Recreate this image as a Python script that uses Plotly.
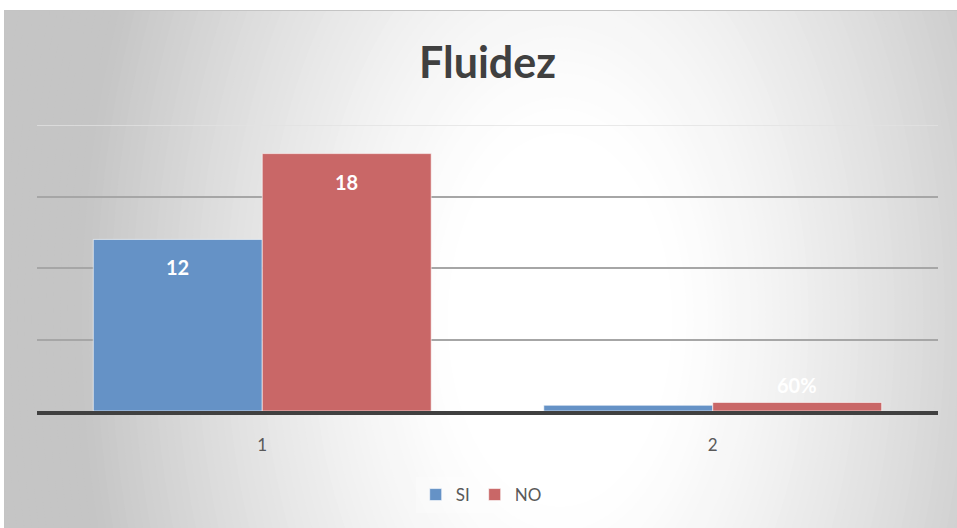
import plotly.graph_objects as go

categories = ["1", "2"]
si_values = [12, 0.4]
no_values = [18, 0.6]
si_labels = ["12", ""]
no_labels = ["18", "60%"]

W, H = 957, 528
L, R, T, B = 37, 19, 125, 117
pw, ph = W - L - R, H - T - B
BARGAP = 0.25

def px_x(p):
    return (p - L) / pw

def px_y(p):
    return (H - B - p) / ph

fig = go.Figure()
fig.add_trace(go.Bar(
    name="SI", x=categories, y=si_values,
    marker=dict(color="#6592c6", line=dict(color="rgba(255,255,255,0.6)", width=1)),
))
fig.add_trace(go.Bar(
    name="NO", x=categories, y=no_values,
    marker=dict(color="#c96767", line=dict(color="rgba(255,255,255,0.6)", width=1)),
))

# data labels (Excel-style "inside end" with its larger inset)
bar_px = pw / len(categories) * (1 - BARGAP) / 2
annotations = []
for vals, labs, sign in ((si_values, si_labels, -1), (no_values, no_labels, 1)):
    for idx, (v, lab) in enumerate(zip(vals, labs)):
        if not lab:
            continue
        inside = v > 2
        annotations.append(dict(
            x=idx, y=v, xref="x", yref="y", text="<b>%s</b>" % lab, showarrow=False,
            xshift=sign * bar_px / 2, yshift=-28 if inside else 17,
            font=dict(family="Lato", size=20, color="white"),
        ))

shapes = []
# elliptical background gradient
cx, cy, ax, ay = 560, 320, 420, 700
steps = 80
for i in range(steps):
    t = 1.6 - (1.6 - 0.25) * i / (steps - 1)
    f = min(1.0, max(0.0, (t - 0.25) / 0.9)) ** 1.3
    g = int(round(255 - 58 * f))
    shapes.append(dict(
        type="circle", xref="paper", yref="paper", layer="below",
        x0=px_x(cx - ax * t), x1=px_x(cx + ax * t),
        y0=px_y(cy + ay * t), y1=px_y(cy - ay * t),
        line=dict(width=0), fillcolor="rgb(%d,%d,%d)" % (g, g, g),
    ))
# white outer margin strips
shapes.append(dict(type="rect", xref="paper", yref="paper", layer="below",
                   x0=px_x(-5), x1=px_x(W + 5), y0=px_y(10), y1=px_y(-5),
                   line=dict(width=0), fillcolor="white"))
shapes.append(dict(type="rect", xref="paper", yref="paper", layer="below",
                   x0=px_x(-5), x1=px_x(4), y0=px_y(H + 5), y1=px_y(-5),
                   line=dict(width=0), fillcolor="white"))
shapes.append(dict(type="line", xref="paper", yref="paper", layer="below",
                   x0=px_x(4), x1=px_x(W + 5), y0=px_y(10.5), y1=px_y(10.5),
                   line=dict(width=1, color="#c4c4c4")))
shapes.append(dict(type="line", xref="paper", yref="paper", layer="below",
                   x0=px_x(4.5), x1=px_x(4.5), y0=px_y(H + 5), y1=px_y(10),
                   line=dict(width=1, color="#c4c4c4")))
# faint top gridline
shapes.append(dict(type="line", xref="paper", yref="y", layer="below",
                   x0=0, x1=1, y0=20, y1=20,
                   line=dict(width=1.5, color="#e2e2e2")))

fig.update_layout(
    width=W, height=H,
    margin=dict(l=L, r=R, t=T, b=B),
    paper_bgcolor="rgb(197,197,197)",
    plot_bgcolor="rgba(0,0,0,0)",
    barmode="group", bargap=BARGAP, bargroupgap=0,
    shapes=shapes, annotations=annotations,
    title=dict(text="<b>Fluidez</b>", x=0.5, xref="paper", y=1 - 63 / H, yref="container",
               yanchor="middle", font=dict(family="Lato", size=43, color="#404040")),
    font=dict(family="Lato", color="#595959"),
    showlegend=True,
    legend=dict(orientation="h", x=0.493, xanchor="center", y=px_y(495), yanchor="middle",
                font=dict(size=17, color="#595959"), bgcolor="rgba(255,255,255,0.25)",
                itemwidth=30, traceorder="normal"),
)
fig.update_xaxes(type="category", range=[-0.5, len(categories) - 0.5], autorange=False,
                 showgrid=False, showline=True, linecolor="#404040", linewidth=4,
                 ticks="", tickfont=dict(size=17, color="#595959"), ticklabelstandoff=16,
                 zeroline=False)
fig.update_yaxes(range=[0, 20], autorange=False, tickvals=[5, 10, 15], showticklabels=False,
                 showgrid=True, gridcolor="#a6a6a6", gridwidth=1.5, zeroline=False,
                 showline=False)

fig.write_html("out.html", config={"displayModeBar": False},
               post_script="document.body.style.margin='0';document.body.style.overflow='hidden';")
